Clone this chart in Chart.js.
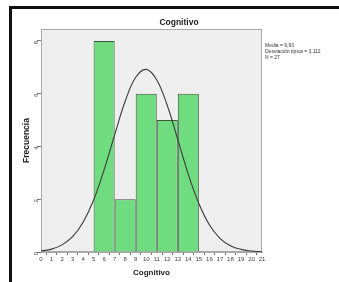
<!DOCTYPE html>
<html>
<head>
<meta charset="utf-8">
<script src="https://cdn.jsdelivr.net/npm/chart.js@4.4.0/dist/chart.umd.min.js"></script>
<style>
  html, body { margin: 0; padding: 0; background: #fff; }
  #wrap { position: relative; width: 339px; height: 282px; overflow: hidden; }
  #frame { position: absolute; left: 9px; top: 6px; width: 400px; height: 400px;
           border-left: 3px solid #111; border-top: 3px solid #111; }
  #titulo { position: absolute; left: 129px; width: 100px; top: 17px; text-align: center;
            font: bold 8.5px Arial, "Liberation Sans", sans-serif; color: #222; }
  #stats { position: absolute; left: 265px; top: 42px; font: 5px Arial, "Liberation Sans", sans-serif;
           color: #333; line-height: 6px; white-space: nowrap; }
  canvas { position: absolute; left: 0; top: 0; }
</style>
</head>
<body>
<div id="wrap">
  <div id="frame"></div>
  <canvas id="grafico" width="339" height="282"></canvas>
  <div id="titulo">Cognitivo</div>
  <div id="stats">Media = 9,93<br>Desviación típica = 3,112<br>N = 27</div>
</div>
<script>
// Histograma (intervalos de 2)
const centros = [6, 8, 10, 12, 14];
const frecuencias = [8, 2, 6, 5, 6];

// Curva normal
const curvaX = [0,1,2,3,4,5,6,7,8,9,10,11,12,13,14,15,16,17,18,19,20,21];
const curvaY = [0.04,0.11,0.27,0.58,1.13,1.97,3.12,4.44,5.71,6.62,6.92,6.52,5.55,4.26,2.94,1.84,1.03,0.52,0.24,0.10,0.04,0.01];

const ticksY = [0, 2, 4, 6, 8];

// fondo gris del area de trazado
const fondo = {
  id: 'fondo',
  beforeDatasetsDraw(chart) {
    const a = chart.chartArea, ctx = chart.ctx;
    ctx.save();
    ctx.fillStyle = '#efefef';
    ctx.fillRect(a.left, a.top, a.right - a.left, a.bottom - a.top);
    ctx.strokeStyle = '#a8a8a8';
    ctx.lineWidth = 1;
    ctx.strokeRect(a.left + 0.5, a.top + 0.5, a.right - a.left - 1, a.bottom - a.top - 1);
    ctx.restore();
  }
};

var ctx = document.getElementById('grafico').getContext('2d');
new Chart(ctx, {
  data: {
    datasets: [
      {
        type: 'line',
        data: curvaX.map((x, i) => ({ x: x, y: curvaY[i] })),
        borderColor: '#3a3a3a',
        borderWidth: 1.1,
        pointRadius: 0,
        tension: 0.4,
        fill: false,
        order: 0
      },
      {
        type: 'bar',
        data: centros.map((c, i) => ({ x: c, y: frecuencias[i] })),
        backgroundColor: '#6fdc80',
        borderColor: '#40543f',
        borderWidth: 1,
        // el ancho minimo lo marcan los ticks (1 unidad), cada barra ocupa 2
        barPercentage: 2,
        categoryPercentage: 1,
        order: 1
      }
    ]
  },
  options: {
    responsive: false,
    animation: false,
    layout: { padding: { left: 21, right: 77, top: 29, bottom: 0 } },
    plugins: {
      legend: { display: false },
      tooltip: { enabled: false },
      title: { display: false }
    },
    scales: {
      x: {
        type: 'linear',
        min: 0, max: 21,
        offset: false,
        ticks: { stepSize: 1, color: '#444', font: { family: 'Arial', size: 6 }, padding: 1, maxRotation: 0, autoSkip: false },
        grid: { drawOnChartArea: false, drawTicks: true, tickLength: 3, color: '#777' },
        border: { color: '#a8a8a8' },
        title: { display: true, text: 'Cognitivo', color: '#222', font: { family: 'Arial', size: 8, weight: 'bold' }, padding: { top: 3, bottom: 4 } },
        afterFit(scale) { scale.height = 30; }
      },
      y: {
        min: 0, max: 8.45,
        ticks: { stepSize: 2, color: '#444', font: { family: 'Arial', size: 6 }, padding: 1, minRotation: 90, maxRotation: 90 },
        afterBuildTicks(scale) { scale.ticks = ticksY.map(v => ({ value: v })); },
        grid: { drawOnChartArea: false, drawTicks: true, tickLength: 4, color: '#777' },
        border: { color: '#a8a8a8' },
        title: { display: true, text: 'Frecuencia', color: '#222', font: { family: 'Arial', size: 8.5, weight: 'bold' }, padding: 1 },
        afterFit(scale) { scale.width = 20; }
      }
    }
  },
  plugins: [fondo]
});
</script>
</body>
</html>
